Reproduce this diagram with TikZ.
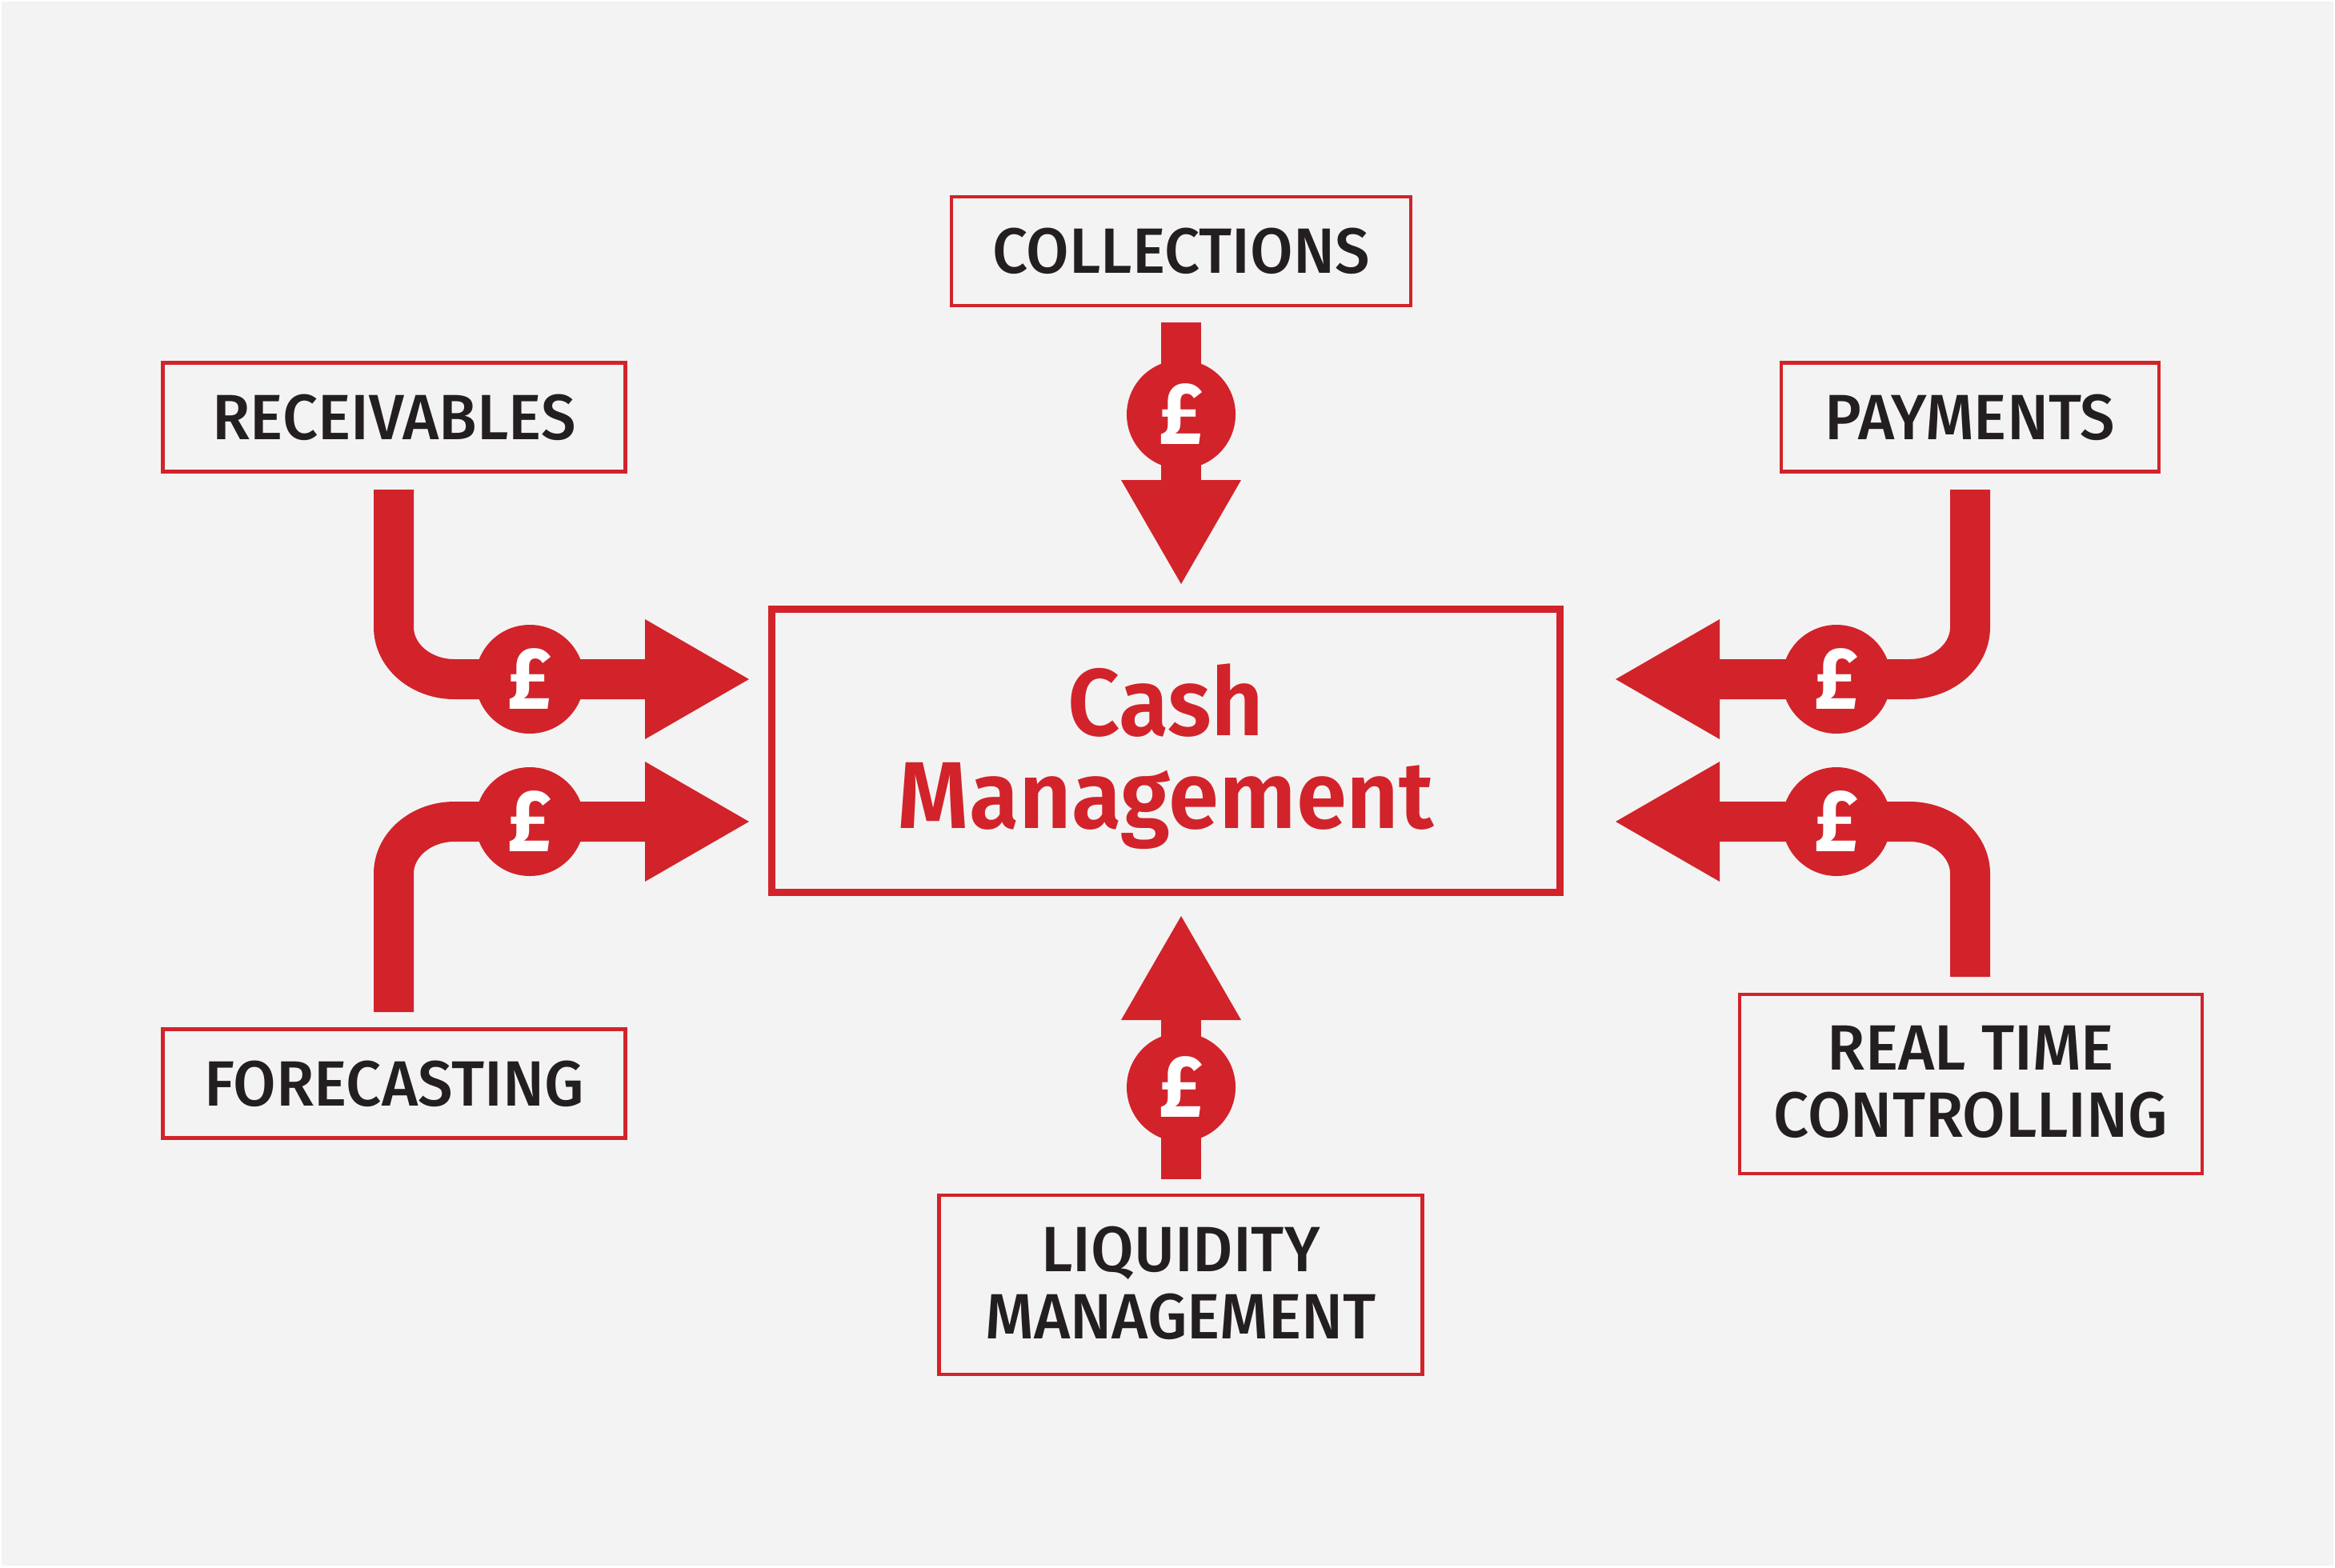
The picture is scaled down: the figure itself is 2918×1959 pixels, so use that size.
\documentclass[tikz,border=0pt]{standalone}
\usepackage{fontspec}
\usetikzlibrary{arrows.meta,calc}
\newfontfamily\labfont[FakeStretch=0.97]{Fira Sans Medium}
\newfontfamily\titlefont[FakeStretch=0.96]{Fira Sans SemiBold}
\newfontfamily\coinfont[FakeStretch=0.93]{Fira Sans Bold}
\definecolor{bankred}{HTML}{D2232A}
\definecolor{ink}{HTML}{231F20}
\definecolor{paper}{HTML}{F3F3F3}
\tikzset{
  x=0.25pt,y=-0.25pt,
  labelbox/.style={draw=bankred,line width=1.1pt,inner sep=0pt,align=center,text=ink,
    font=\labfont\fontsize{20pt}{21pt}\selectfont},
  flow/.style={draw=bankred,line width=12.5pt,line cap=butt,
    -{Triangle[length=32.5pt,width=37.5pt,fill=bankred,line width=0pt]}},
  coin/.style={circle,fill=bankred,inner sep=0pt,minimum size=34pt,text=white,
    font=\coinfont\fontsize{27.5pt}{27.5pt}\selectfont},
}
\begin{document}
\begin{tikzpicture}
\useasboundingbox (0,0) rectangle (2918,1959);
\fill[white] (0,0) rectangle (2918,1959);
\fill[paper] (2,2) rectangle (2916,1957);
% boxes
\node[draw=bankred,line width=2.25pt,minimum width=246.25pt,minimum height=88.5pt,inner sep=0pt,
  align=center,text=bankred,font=\titlefont\fontsize{29.7pt}{28.8pt}\selectfont] (main) at (1457,938.5) {\rule{0pt}{26pt}Cash\\Management};
\node[labelbox,minimum width=143.5pt,minimum height=34pt] (coll) at (1476,314) {COLLECTIONS};
\node[labelbox,minimum width=144.5pt,minimum height=34pt] (recv) at (492.5,521.5) {RECEIVABLES};
\node[labelbox,minimum width=118pt,minimum height=34pt] (paym) at (2462,521.5) {PAYMENTS};
\node[labelbox,minimum width=144.5pt,minimum height=34pt] (fore) at (492.5,1354.5) {FORECASTING};
\node[labelbox,minimum width=144.5pt,minimum height=56pt] (real) at (2463,1355) {REAL TIME\\CONTROLLING\rule[-1.5pt]{0pt}{1.5pt}};
\node[labelbox,minimum width=151pt,minimum height=56pt] (liqu) at (1475.5,1606) {LIQUIDITY\\MANAGEMENT\rule[-1.5pt]{0pt}{1.5pt}};
% connector ends
\coordinate (collS) at (1476,403);  \coordinate (collT) at (1476,730);
\coordinate (liquS) at (1476,1474); \coordinate (liquT) at (1476,1145);
\coordinate (recvS) at (492,612);   \coordinate (recvT) at (936,849);
\coordinate (foreS) at (492,1265);  \coordinate (foreT) at (936,1027);
\coordinate (paymS) at (2462,612);  \coordinate (paymT) at (2019,849);
\coordinate (realS) at (2462,1221); \coordinate (realT) at (2019,1027);
% connectors
\draw[flow] (collS) -- (collT);
\draw[flow] (liquS) -- (liquT);
\draw[flow] (recvS) -- (492,784) arc[start angle=180,end angle=270,x radius=76,y radius=-65] -- (recvT);
\draw[flow] (foreS) -- (492,1092) arc[start angle=180,end angle=90,x radius=76,y radius=-65] -- (foreT);
\draw[flow] (paymS) -- (2462,784) arc[start angle=0,end angle=-90,x radius=76,y radius=-65] -- (paymT);
\draw[flow] (realS) -- (2462,1092) arc[start angle=0,end angle=90,x radius=76,y radius=-65] -- (realT);
% coins
\node[coin] (c1) at (1476,518) {£};
\node[coin] (c2) at (1476,1359) {£};
\node[coin] (c3) at (662,849) {£};
\node[coin] (c4) at (662,1027) {£};
\node[coin] (c5) at (2295,849) {£};
\node[coin] (c6) at (2295,1027) {£};
\end{tikzpicture}
\end{document}
